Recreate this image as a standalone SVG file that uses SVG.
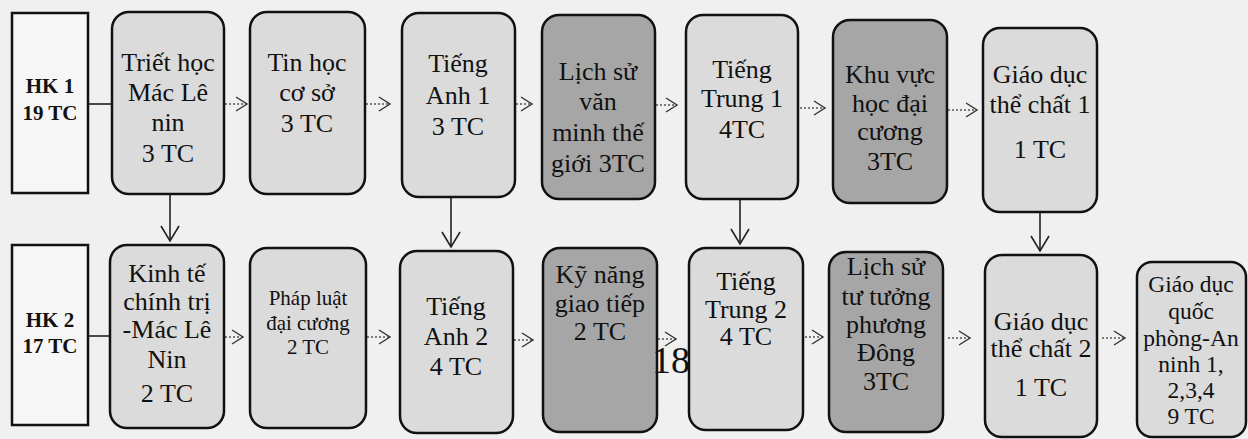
<svg xmlns="http://www.w3.org/2000/svg" width="1248" height="439" viewBox="0 0 1248 439">
<style>
.bg{fill:#f0f0f0}
.hk{fill:#f6f6f6;stroke:#111;stroke-width:2.5}
.lt{fill:#dbdbdb;stroke:#111;stroke-width:2.5}
.dk{fill:#a6a6a6;stroke:#111;stroke-width:2.5}
text{font-family:"Liberation Serif","Times New Roman",serif;fill:#111;text-anchor:middle}
.t{font-size:26px}
.q{font-size:23.5px}
.s{font-size:21px}
.b{font-size:21px;font-weight:bold}
.dot{stroke:#555;stroke-width:1.3;stroke-dasharray:2 2;fill:none}
.sol{stroke:#222;stroke-width:1.6;fill:none}
</style>
<defs>
<marker id="chev" markerUnits="userSpaceOnUse" markerWidth="16" markerHeight="20" refX="12" refY="8" orient="auto">
<path d="M1,1 L12,8 L1,15" fill="none" stroke="#333" stroke-width="1.4"/>
</marker>
<marker id="vee" markerUnits="userSpaceOnUse" markerWidth="24" markerHeight="20" refX="16" refY="10" orient="auto">
<path d="M1,1 L16,10 L1,19" fill="none" stroke="#222" stroke-width="1.6"/>
</marker>
</defs>
<rect class="bg" x="0" y="0" width="1248" height="439"/>

<g id="connectors">
<line class="sol" x1="88" y1="104" x2="112" y2="104"/>
<line class="sol" x1="88" y1="336" x2="110" y2="336"/>
<line class="dot" x1="225" y1="104" x2="247" y2="104" marker-end="url(#chev)"/>
<line class="dot" x1="366" y1="104" x2="390" y2="104" marker-end="url(#chev)"/>
<line class="dot" x1="516" y1="104" x2="532" y2="104" marker-end="url(#chev)"/>
<line class="dot" x1="656" y1="105" x2="677" y2="105" marker-end="url(#chev)"/>
<line class="dot" x1="800" y1="108" x2="825" y2="108" marker-end="url(#chev)"/>
<line class="dot" x1="948" y1="110" x2="977" y2="110" marker-end="url(#chev)"/>
<line class="dot" x1="225" y1="337" x2="243" y2="337" marker-end="url(#chev)"/>
<line class="dot" x1="367" y1="337" x2="390" y2="337" marker-end="url(#chev)"/>
<line class="dot" x1="514" y1="340" x2="533" y2="340" marker-end="url(#chev)"/>
<line class="dot" x1="658" y1="339" x2="676" y2="339" marker-end="url(#chev)"/>
<line class="dot" x1="805" y1="337" x2="823" y2="337" marker-end="url(#chev)"/>
<line class="dot" x1="948" y1="338" x2="970" y2="338" marker-end="url(#chev)"/>
<line class="dot" x1="1102" y1="338" x2="1125" y2="338" marker-end="url(#chev)"/>
<line class="sol" x1="170" y1="194" x2="170" y2="241" marker-end="url(#vee)"/>
<line class="sol" x1="451" y1="197" x2="451" y2="247" marker-end="url(#vee)"/>
<line class="sol" x1="740" y1="199" x2="740" y2="244" marker-end="url(#vee)"/>
<line class="sol" x1="1040" y1="212" x2="1040" y2="251" marker-end="url(#vee)"/>
</g>

<g id="hk1"><rect class="hk" x="12" y="13" width="76" height="180"/>
<text class="b" x="50" y="93">HK 1</text><text class="b" x="50" y="120">19 TC</text></g>
<g id="hk2"><rect class="hk" x="12" y="245" width="76" height="180"/>
<text class="b" x="50" y="327">HK 2</text><text class="b" x="50" y="353">17 TC</text></g>

<g id="triet-hoc"><rect class="lt" x="112" y="12" width="112" height="182" rx="17"/>
<text class="t" x="168" y="71">Triết học</text><text class="t" x="168" y="101">Mác Lê</text><text class="t" x="168" y="131">nin</text><text class="t" x="168" y="162">3 TC</text></g>
<g id="tin-hoc"><rect class="lt" x="250" y="12" width="115" height="182" rx="17"/>
<text class="t" x="307" y="71">Tin học</text><text class="t" x="307" y="101">cơ sở</text><text class="t" x="307" y="132">3 TC</text></g>
<g id="tieng-anh-1"><rect class="lt" x="402" y="13" width="113" height="184" rx="17"/>
<text class="t" x="458" y="72">Tiếng</text><text class="t" x="458" y="104">Anh 1</text><text class="t" x="458" y="135">3 TC</text></g>
<g id="lich-su-van-minh"><rect class="dk" x="542" y="15" width="113" height="184" rx="17"/>
<text class="t" x="598" y="80">Lịch sử</text><text class="t" x="598" y="110">văn</text><text class="t" x="598" y="141">minh thế</text><text class="t" x="598" y="172">giới 3TC</text></g>
<g id="tieng-trung-1"><rect class="lt" x="686" y="15" width="112" height="184" rx="17"/>
<text class="t" x="742" y="78">Tiếng</text><text class="t" x="742" y="107">Trung 1</text><text class="t" x="742" y="138">4TC</text></g>
<g id="khu-vuc-hoc"><rect class="dk" x="833" y="20" width="114" height="183" rx="17"/>
<text class="t" x="890" y="83">Khu vực</text><text class="t" x="890" y="112">học đại</text><text class="t" x="890" y="140">cương</text><text class="t" x="890" y="170">3TC</text></g>
<g id="gdtc-1"><rect class="lt" x="983" y="28" width="114" height="184" rx="17"/>
<text class="t" x="1040" y="83">Giáo dục</text><text class="t" x="1040" y="113">thể chất 1</text><text class="t" x="1040" y="158">1 TC</text></g>

<g id="kinh-te-chinh-tri"><rect class="lt" x="110" y="245" width="114" height="183" rx="17"/>
<text class="t" x="167" y="282">Kinh tế</text><text class="t" x="167" y="310">chính trị</text><text class="t" x="167" y="338">-Mác Lê</text><text class="t" x="167" y="368">Nin</text><text class="t" x="167" y="402">2 TC</text></g>
<g id="phap-luat"><rect class="lt" x="250" y="248" width="116" height="180" rx="17"/>
<text class="s" x="308" y="305">Pháp luật</text><text class="s" x="308" y="330">đại cương</text><text class="s" x="308" y="354">2 TC</text></g>
<g id="tieng-anh-2"><rect class="lt" x="400" y="251" width="113" height="182" rx="17"/>
<text class="t" x="456" y="315">Tiếng</text><text class="t" x="456" y="345">Anh 2</text><text class="t" x="456" y="375">4 TC</text></g>
<g id="ky-nang"><rect class="dk" x="543" y="248" width="114" height="184" rx="17"/>
<text class="t" x="600" y="283">Kỹ năng</text><text class="t" x="600" y="312">giao tiếp</text><text class="t" x="600" y="340">2 TC</text></g>
<g id="tieng-trung-2"><rect class="lt" x="689" y="248" width="114" height="182" rx="17"/>
<text class="t" x="746" y="290">Tiếng</text><text class="t" x="746" y="318">Trung 2</text><text class="t" x="746" y="345">4 TC</text></g>
<g id="lich-su-tu-tuong"><rect class="dk" x="829" y="252" width="114" height="180" rx="17"/>
<text class="t" x="886" y="275">Lịch sử</text><text class="t" x="886" y="305">tư tưởng</text><text class="t" x="886" y="333">phương</text><text class="t" x="886" y="361">Đông</text><text class="t" x="886" y="390">3TC</text></g>
<g id="gdtc-2"><rect class="lt" x="985" y="255" width="112" height="182" rx="17"/>
<text class="t" x="1041" y="330">Giáo dục</text><text class="t" x="1041" y="357">thể chất 2</text><text class="t" x="1041" y="396">1 TC</text></g>
<g id="gdqp"><rect class="lt" x="1137" y="262" width="109" height="175" rx="15"/>
<text class="q" x="1191" y="292">Giáo dục</text><text class="q" x="1191" y="319">quốc</text><text class="q" x="1191" y="346">phòng-An</text><text class="q" x="1191" y="372">ninh 1,</text><text class="q" x="1191" y="398">2,3,4</text><text class="q" x="1191" y="424">9 TC</text></g>

<text x="671" y="373" style="font-size:38px">18</text>
</svg>
